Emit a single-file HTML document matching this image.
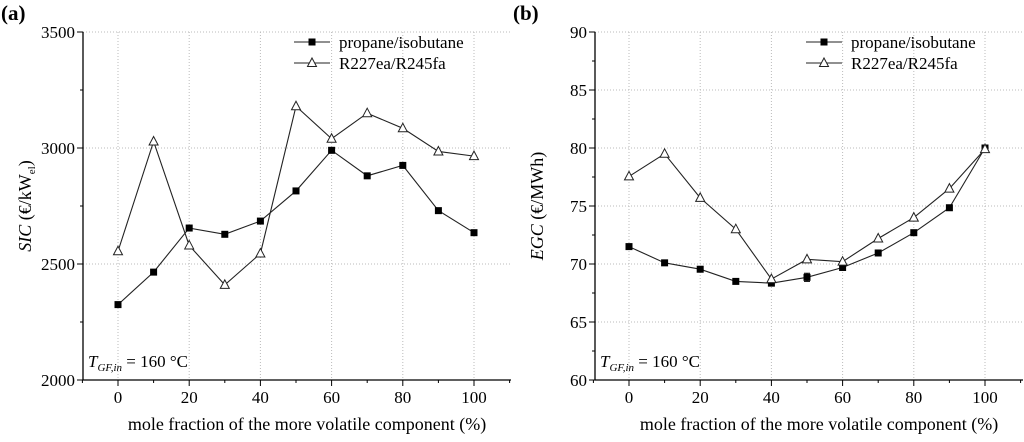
<!DOCTYPE html>
<html><head><meta charset="utf-8"><style>
body{margin:0;background:#fff}
svg{display:block;font-family:"Liberation Serif",serif}
</style></head><body>
<svg id="c" width="1024" height="442" viewBox="0 0 1024 442" xmlns="http://www.w3.org/2000/svg"></svg>
<script>
const xCats=[0,10,20,30,40,50,60,70,80,90,100];
const xTicks=[0,20,40,60,80,100];
const aPropane=[2325,2465,2655,2628,2685,2815,2990,2880,2925,2730,2635];
const aR227=[2555,3028,2580,2410,2545,3180,3040,3150,3085,2985,2965];
const aYTicks=[2000,2500,3000,3500];
const bPropane=[71.5,70.1,69.55,68.5,68.35,68.85,69.7,70.95,72.7,74.85,80.0];
const bR227=[77.55,79.5,75.7,73.0,68.7,70.4,70.2,72.2,74.0,76.5,79.9];
const bYTicks=[60,65,70,75,80,85,90];
const bErrIdx=5, bErr=0.35;
const NS="http://www.w3.org/2000/svg";
const svg=document.getElementById('c');
function mk(tag,attrs,parent){const e=document.createElementNS(NS,tag);for(const k in attrs)e.setAttribute(k,attrs[k]);(parent||svg).appendChild(e);return e;}
function panel(o){
  const g=mk('g',{});
  
  
  const L=o.left,R=o.left+428,T=32,B=380;
  const X=v=>o.x0+(v)*(o.x100-o.x0)/100;
  const Y=v=>B-(v-o.ymin)*(B-T)/(o.ymax-o.ymin);
  // grid
  xTicks.forEach(v=>{const l=mk('line',{x1:X(v),x2:X(v),y1:T,y2:B,stroke:'#bbb','stroke-dasharray':'1,2'},g);});
  o.yt.forEach(v=>{if(v===o.ymin)return;const l=mk('line',{x1:L,x2:R,y1:Y(v),y2:Y(v),stroke:'#bbb','stroke-dasharray':'1,2'},g);});
  // axes
  const ax=mk('path',{d:`M${L},${T}V${B}H${R}`,stroke:'#000','stroke-width':1.3,fill:'none'},g);
  
  // y ticks
  const step=o.yt[1]-o.yt[0];
  o.yt.forEach((v,i)=>{
    mk('line',{x1:L-6,x2:L,y1:Y(v),y2:Y(v),stroke:'#000'},g);
    if(i<o.yt.length-1)mk('line',{x1:L-3,x2:L,y1:Y(v+step/2),y2:Y(v+step/2),stroke:'#000'},g);
    const t=mk('text',{x:L-8,y:Y(v)+6,'text-anchor':'end','font-size':17},g);t.textContent=v;
    
  });
  for(let v=-10;v<=110;v+=10){const maj=(v%20===0);mk('line',{x1:X(v),x2:X(v),y1:B,y2:B+(maj?6:3),stroke:'#000'},g);}
  xTicks.forEach(v=>{const t=mk('text',{x:X(v),y:B+23,'text-anchor':'middle','font-size':17},g);t.textContent=v;});
  const xt=mk('text',{x:(L+R)/2+10,y:430,'text-anchor':'middle','font-size':18},g);xt.textContent='mole fraction of the more volatile component  (%)';
  
  const yt=mk('text',{transform:`translate(${L-52},${(T+B)/2}) rotate(-90)`,'text-anchor':'middle','font-size':18},g);
  yt.innerHTML=o.ylab;
  const pl=mk('text',{x:o.left-82,y:20,'font-size':21,'font-weight':'bold'},g);pl.textContent=o.label;
  
  const an=mk('text',{x:L+5,y:367,'font-size':17},g);
  an.innerHTML='<tspan font-style="italic">T</tspan><tspan font-style="italic" font-size="11" dy="4">GF,in</tspan><tspan dy="-4"> = 160 °C</tspan>';
  
  // error bar
  if(o.err){const x=X(xCats[bErrIdx]),v=o.s1[bErrIdx];
    mk('path',{d:`M${x},${Y(v+bErr)}V${Y(v-bErr)}M${x-3},${Y(v+bErr)}h6M${x-3},${Y(v-bErr)}h6`,stroke:'#000',fill:'none'},g);}
  // series
  const pts=s=>s.map((v,i)=>X(xCats[i])+','+Y(v)).join(' ');
  const l2=mk('polyline',{points:pts(o.s2),fill:'none',stroke:'#222','stroke-width':1.1},g);
  
  const l1=mk('polyline',{points:pts(o.s1),fill:'none',stroke:'#222','stroke-width':1.1},g);
  
  o.s1.forEach((v,i)=>{const r=mk('rect',{x:X(xCats[i])-3.5,y:Y(v)-3.5,width:7,height:7,fill:'#000'},g);});
  const tri=(x,y)=>`${x},${y-5} ${x+4.5},${y+3.5} ${x-4.5},${y+3.5}`;
  o.s2.forEach((v,i)=>{const p=mk('polygon',{points:tri(X(xCats[i]),Y(v)),fill:'#fff',stroke:'#222'},g);});
  // legend
  const lx=o.left+211;
  const lg=mk('g',{},g);
  mk('line',{x1:lx,x2:lx+36,y1:42,y2:42,stroke:'#222'},lg);mk('rect',{x:lx+14.5,y:38.5,width:7,height:7},lg);
  const t1=mk('text',{x:lx+45,y:48,'font-size':17},lg);t1.textContent='propane/isobutane';
  mk('line',{x1:lx,x2:lx+36,y1:63,y2:63,stroke:'#222'},lg);mk('polygon',{points:tri(lx+18,63),fill:'#fff',stroke:'#222'},lg);
  const t2=mk('text',{x:lx+45,y:69,'font-size':17},lg);t2.textContent='R227ea/R245fa';
}
panel({name:'panel-a-sic',left:83,x0:118,x100:474,ymin:2000,ymax:3500,yt:aYTicks,s1:aPropane,s2:aR227,label:'(a)',
 ylab:'<tspan font-style="italic">SIC</tspan> (€/kW<tspan font-size="11" dy="4">el</tspan><tspan dy="-4">)</tspan>'});
panel({name:'panel-b-egc',left:595,x0:629,x100:985,ymin:60,ymax:90,yt:bYTicks,s1:bPropane,s2:bR227,label:'(b)',err:true,
 ylab:'<tspan font-style="italic">EGC</tspan> (€/MWh)'});
</script>
</body></html>
